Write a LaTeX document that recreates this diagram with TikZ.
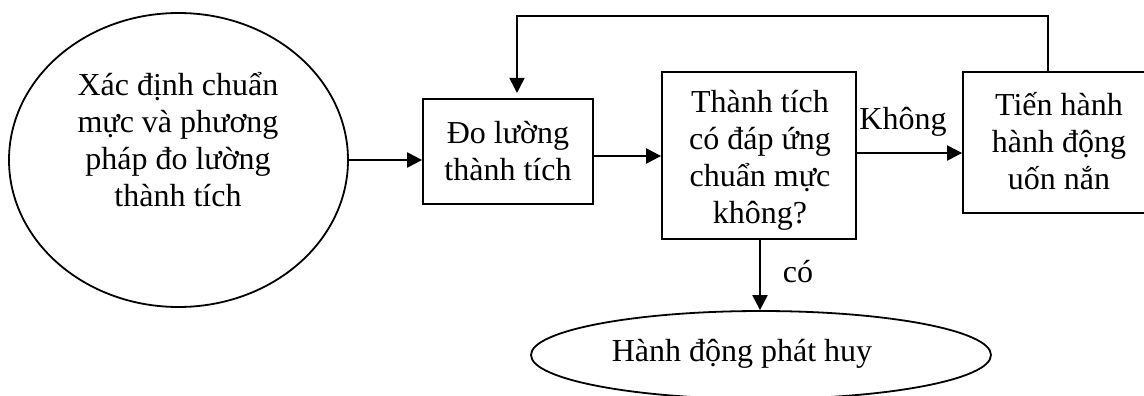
\documentclass[tikz,border=0pt]{standalone}
\usepackage{fontspec}
\setmainfont{Liberation Serif}
\usetikzlibrary{shapes.geometric,arrows.meta}
\begin{document}
\begin{tikzpicture}[x=1pt,y=-1pt,
  every node/.style={font=\fontsize{32}{37}\selectfont, align=center, inner sep=0pt},
  box/.style={draw, line width=1.8pt, rectangle},
  oval/.style={draw, line width=1.8pt, ellipse},
  flow/.style={line width=2.2pt, -{Triangle[length=15pt,width=15pt]}},
  back/.style={line width=1.5pt, -{Triangle[length=15pt,width=15pt]}}]
\clip (0,0) rectangle (1144,396);

% process shapes
\node[oval, minimum width=339pt, minimum height=294pt] (def) at (178.5,160) {};
\node (deftext) at (178,140) {Xác định chuẩn\\mực và phương\\pháp đo lường\\thành tích};
\node[box, minimum width=170pt, minimum height=105pt] (meas) at (508,151.5) {Đo lường\\thành tích};
\node[box, minimum width=194pt, minimum height=167pt] (check) at (759,155.5) {};
\node (checktext) at (760,160) {Thành tích\\có đáp ứng\\chuẩn mực\\không?};
\node[box, minimum width=210pt, minimum height=141pt] (fix) at (1068,142.5) {};
\node (fixtext) at (1059,141) {Tiến hành\\hành động\\uốn nắn};
\node[oval, minimum width=460pt, minimum height=88pt] (prom) at (761,355) {};
\node (promtext) at (742,354) {Hành động phát huy};

% connector anchor points
\coordinate (mo) at (593,156);
\coordinate (co) at (856,153);
\coordinate (cb) at (760,239);
\coordinate (turnR) at (1048,16);
\coordinate (turnL) at (517,16);
\coordinate (measIn) at (517,93);

% connectors
\draw[flow] (def.east) -- (def.east -| meas.west);
\draw[flow] (mo) -- (mo -| check.west);
\draw[flow] (co) -- (co -| fix.west);
\node (no) at (903,122) {Không};
\draw[back] (fix.north -| turnR) -- (turnR) -- (turnL) -- (measIn);
\draw[flow] (cb) -- (cb |- prom.north);
\node (yes) at (798,272) {có};
\end{tikzpicture}
\end{document}
